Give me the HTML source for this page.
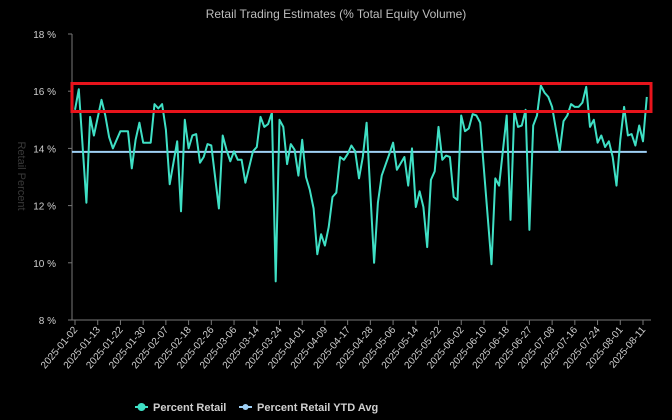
<!DOCTYPE html>
<html><head><meta charset="utf-8"><style>
html,body{margin:0;padding:0;background:#000;}
svg{display:block;font-family:"Liberation Sans",Arial,sans-serif;}
</style></head><body>
<svg id="chart" width="672" height="420" viewBox="0 0 672 420">
<rect width="672" height="420" fill="#000"/>
<text x="336" y="18" text-anchor="middle" font-size="12" fill="#bdbdbd">Retail Trading Estimates (% Total Equity Volume)</text>
<text transform="translate(18,176) rotate(90)" text-anchor="middle" font-size="11" fill="#3a3a3a">Retail Percent</text>
<g id="yaxis"></g>
<g id="xaxis"></g>
<g id="series"></g>
<rect x="72" y="83.5" width="579" height="28" fill="none" stroke="#e8141c" stroke-width="3"/>
<g>
  <g>
    <line x1="135" y1="407" x2="148" y2="407" stroke="#3fe0c5" stroke-width="2"/>
    <circle cx="141.5" cy="407" r="4" fill="#3fe0c5"/>
    <text x="153" y="411" font-size="11" font-weight="bold" fill="#cfcfcf">Percent Retail</text>
  </g>
  <g>
    <line x1="239" y1="407" x2="252" y2="407" stroke="#9fd0f5" stroke-width="2"/>
    <circle cx="245.5" cy="407" r="3" fill="#9fd0f5"/>
    <text x="257" y="411" font-size="11" font-weight="bold" fill="#cfcfcf">Percent Retail YTD Avg</text>
  </g>
</g>
</svg>
<script>
const yTicks = [8, 10, 12, 14, 16, 18];
const tickLabels = ["2025-01-02","2025-01-13","2025-01-22","2025-01-30","2025-02-07","2025-02-18","2025-02-26","2025-03-06","2025-03-14","2025-03-24","2025-04-01","2025-04-09","2025-04-17","2025-04-28","2025-05-06","2025-05-14","2025-05-22","2025-06-02","2025-06-10","2025-06-18","2025-06-27","2025-07-08","2025-07-16","2025-07-24","2025-08-01","2025-08-11"];
const tickEvery = 6;
const dayIdx = [0,1,3,4,5,7,8,9,10,12,14,15,16,17,18,20,21,22,23,24,25,27,28,29,30,31,32,33,34,35,36,38,39,40,41,42,43,44,45,47,48,49,50,51,52,53,54,55,56,57,58,59,60,61,62,63,64,65,66,67,68,69,70,71,72,73,74,75,76,77,79,80,81,83,84,85,87,88,89,90,91,92,93,94,95,96,97,98,99,100,101,102,103,104,105,106,107,110,111,112,114,115,116,117,118,119,120,121,122,123,124,125,126,128,129,130,131,132,133,134,135,136,137,138,139,140,141,142,143,144,145,146,147,148,149,150,151];
const pctRetail = [15.35,16.07,12.1,15.1,14.45,15.7,15.15,14.4,14.0,14.6,14.6,13.3,14.3,14.9,14.2,14.2,15.55,15.4,15.55,14.65,12.75,14.25,11.8,15.0,14.0,14.45,14.5,13.5,13.7,14.15,14.1,11.9,14.45,13.95,13.55,13.9,13.6,13.6,12.8,13.9,14.05,15.1,14.75,14.85,15.25,9.35,15.0,14.75,13.45,14.15,13.95,13.05,14.3,13.0,12.55,11.9,10.3,11.0,10.6,11.25,12.3,12.45,13.7,13.6,13.8,14.1,13.9,12.95,13.7,14.9,10.0,12.1,13.05,13.8,14.2,13.25,13.7,12.7,14.0,11.95,12.5,11.95,10.55,12.9,13.2,14.75,13.6,13.75,13.7,12.3,12.2,15.15,14.6,14.7,15.2,15.15,14.9,9.95,12.95,12.7,15.15,11.5,15.3,14.75,14.8,15.35,11.15,14.8,15.15,16.2,15.95,15.8,15.45,13.9,14.95,15.15,15.55,15.45,15.45,15.6,16.15,14.75,15.0,14.2,14.45,14.05,14.25,13.7,12.7,14.3,15.45,14.45,14.5,14.1,14.8,14.25,15.8];
const ytdAvg = [13.88];

const NS = "http://www.w3.org/2000/svg";
const x0 = 75, x1 = 643, yBottom = 320, yTop = 34;
const maxTick = (tickLabels.length - 1) * tickEvery;
function xScale(i){ return x0 + (i / maxTick) * (x1 - x0); }
function yScale(v){ return yBottom - (v - 8) / 10 * (yBottom - yTop); }
function mk(tag, attrs, parent){ const e = document.createElementNS(NS, tag); for (const k in attrs) e.setAttribute(k, attrs[k]); parent.appendChild(e); return e; }

const yaxis = document.getElementById('yaxis');
const ax = mk('line', {x1:72, y1:yTop, x2:72, y2:yBottom, stroke:'#777', 'stroke-width':1}, yaxis);


yTicks.forEach(v => {
  const y = yScale(v);
  const t = mk('line', {x1:68, y1:y, x2:72, y2:y, stroke:'#777'}, yaxis);
  
  
  const lb = mk('text', {x:56, y:y+4, 'text-anchor':'end', 'font-size':10, fill:'#cfcfcf'}, yaxis);
  lb.textContent = v + ' %';
  
  
});

const xaxis = document.getElementById('xaxis');
const bx = mk('line', {x1:72, y1:yBottom, x2:651, y2:yBottom, stroke:'#777'}, xaxis);


tickLabels.forEach((lab, k) => {
  const x = xScale(k * tickEvery);
  const t = mk('line', {x1:x, y1:yBottom, x2:x, y2:yBottom+5, stroke:'#777'}, xaxis);
  
  
  const lb = mk('text', {transform:`translate(${x+3},${yBottom+10}) rotate(-50)`, 'text-anchor':'end', 'font-size':10, fill:'#cfcfcf'}, xaxis);
  lb.textContent = lab;
  
  
});

const series = document.getElementById('series');
const avgY = yScale(ytdAvg[0]);
const avg = mk('line', {x1:x0-3, y1:avgY, x2:xScale(dayIdx[dayIdx.length-1]), y2:avgY, stroke:'#9fd0f5', 'stroke-width':2}, series);


const pts = pctRetail.map((v, i) => xScale(dayIdx[i]).toFixed(1) + ',' + yScale(v).toFixed(1)).join(' ');
const line = mk('polyline', {points:pts, fill:'none', stroke:'#3fe0c5', 'stroke-width':2, 'stroke-linejoin':'round'}, series);


</script>
</body></html>
